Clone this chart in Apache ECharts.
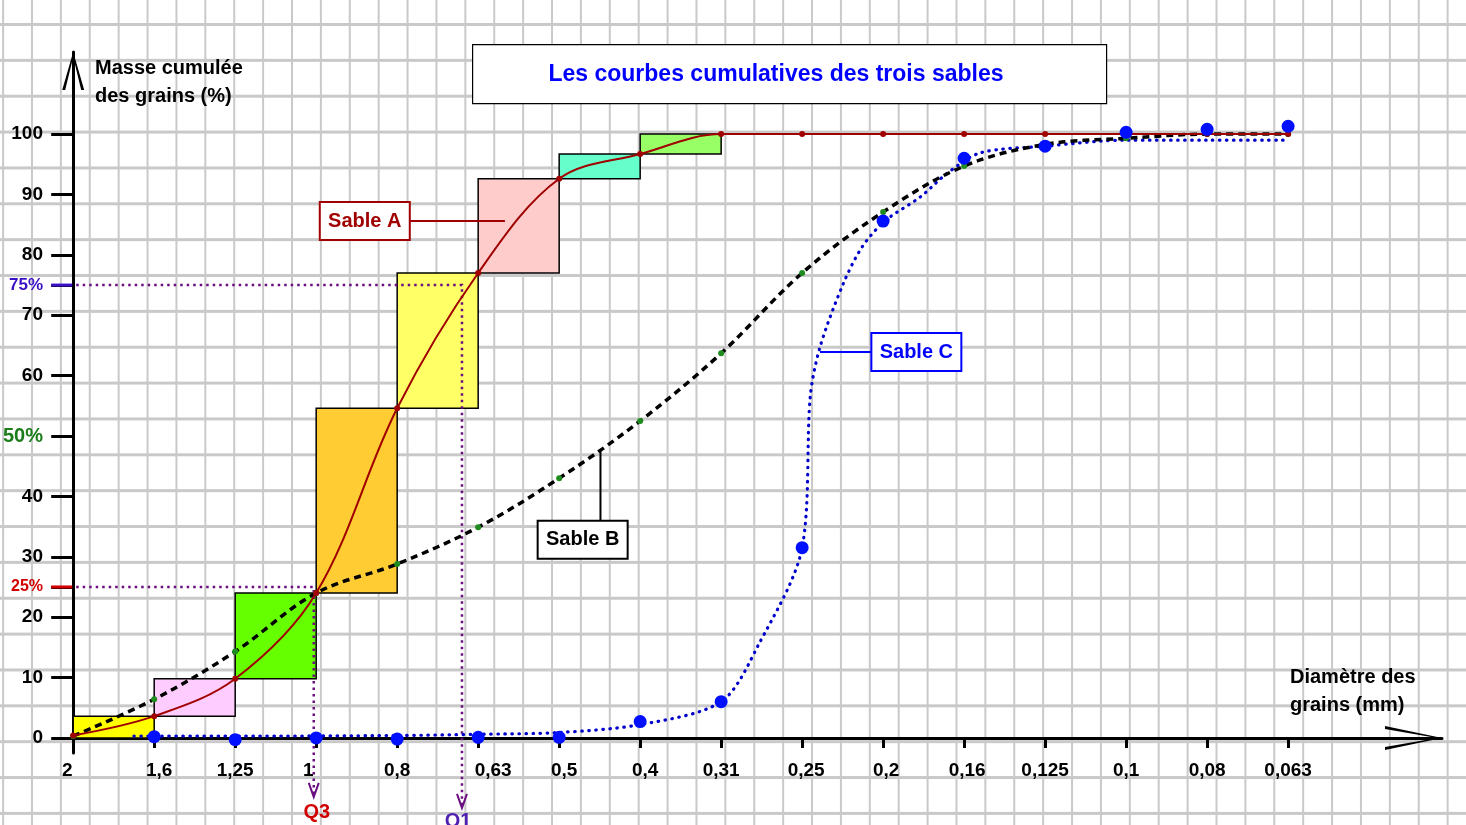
<!DOCTYPE html>
<html lang="fr">
<head>
<meta charset="utf-8">
<title>Les courbes cumulatives des trois sables</title>
<script src="https://cdn.jsdelivr.net/npm/echarts@6.0.0/dist/echarts.min.js"></script>
<style>
html, body { margin: 0; padding: 0; }
body {
	width: 1466px;
	height: 825px;
	overflow: hidden;
	background-color: #fff;
	/* papier quadrillé */
	background-image:
		linear-gradient(to right, #c9c9c9 0, #c9c9c9 2px, transparent 2px),
		linear-gradient(to bottom, #c9c9c9 0, #c9c9c9 2.5px, transparent 2.5px);
	background-size: 28.9px 100%, 100% 35.86px;
	background-position: 2.1px 0, 0 23px;
}
#graphique { width: 1466px; height: 825px; }
</style>
</head>
<body>
<div id="graphique"></div>
<script>
// ouverture des tamis (mm), de gauche à droite
const diametres = ['2', '1,6', '1,25', '1', '0,8', '0,63', '0,5', '0,4', '0,31', '0,25', '0,2', '0,16', '0,125', '0,1', '0,08', '0,063'];
// masse cumulée (%) pour chaque tamis
const sableA = [0.4, 3.6, 9.8, 24.0, 54.6, 77.0, 92.6, 96.7, 100, 100, 100, 100, 100, 100, 100, 100];
const sableB = [0.3, 6.4, 14.3, 24.0, 28.8, 34.9, 43.0, 52.5, 63.7, 77.0, 87.1, 94.7, 98.3, 99.3, 100, 100];
const sableC = [null, 0.2, -0.3, 0, -0.2, 0.1, 0.1, 2.7, 6.0, 31.5, 85.6, 96.0, 98.0, 100.3, 100.8, 101.3];
// tracé pointillé du sable C : [rang du tamis, %]
const courbeC = [[0.75, 0.3], [2, 0.3], [4, 0.4], [5, 0.6], [6, 0.9], [7, 2.2], [8, 6.0], [8.46, 15.4], [9, 31.5],
	[9.1, 56.5], [9.22, 64.7], [9.51, 75.3], [9.74, 81.3], [10.02, 85.6], [10.46, 89.6], [10.79, 93.5],
	[11.2, 96.9], [12, 98.0], [13, 99.0], [14, 99.0], [15, 99.0]];
// graduations de l'axe des masses
const graduationsY = [0, 10, 20, 25, 30, 40, 50, 60, 70, 75, 80, 90, 100];
const quartiles = ['Q1', 'Q3'];
const pourcentQuartiles = [75, 25];
const rangQuartiles = [4.8, 2.97];

const rangs = diametres.map((d, i) => i);
const police = '"Liberation Sans", Arial, sans-serif';

// histogramme du sable A : un rectangle par tranche de tamis
const couleursHisto = ['#ffff00', '#ffccff', '#66ff00', '#ffcc33', '#ffff66', '#ffcccc', '#66ffcc', '#99ff66', '#99ff66'];
const histo = [];
for (let i = 0; i < 9; i++) {
	histo.push([i, i + 1, i === 0 ? 0 : sableA[i], sableA[i + 1]]);
}

// étiquettes des courbes
const etiquettes = [
	{ texte: 'Sable A', ancre: [5.33, 85.6], boite: [3.6, 85.6], couleur: '#a00000' },
	{ texte: 'Sable B', ancre: [6.51, 47.7], boite: [6.29, 32.8], couleur: '#000000' },
	{ texte: 'Sable C', ancre: [9.22, 63.9], boite: [10.41, 63.9], couleur: '#0000ff' },
];

const styleQuartiles = [
	{ repere: '#3a10c8', texte: '#5020b0', descente: 70, decal: -4, ecart: 14 },
	{ repere: '#d40000', texte: '#d00000', descente: 59, decal: 3, ecart: 16 },
];

// petits décalages des étiquettes de l'axe x
const decalagesX = { 0: -6, 1: 5, 3: -8, 5: 15, 6: 5, 7: 5, 9: 4, 10: 3, 11: 3 };
const richX = {};
Object.keys(decalagesX).forEach((k) => {
	const d = decalagesX[k];
	richX['p' + k] = {
		fontSize: 19, fontWeight: 'bold', color: '#000', fontFamily: police,
		padding: d > 0 ? [0, 0, 0, 2 * d] : [0, -2 * d, 0, 0],
	};
});

function dessinerHisto(params, api) {
	const a = api.coord([api.value(0), api.value(3)]);
	const b = api.coord([api.value(1), api.value(2)]);
	return {
		type: 'rect',
		shape: { x: a[0], y: a[1], width: b[0] - a[0], height: b[1] - a[1] },
		style: { fill: couleursHisto[params.dataIndex], stroke: '#000', lineWidth: 1.5 },
	};
}

function dessinerQuartile(params, api) {
	const s = styleQuartiles[params.dataIndex];
	const p = api.coord([api.value(0), api.value(1)]);
	const o = api.coord([0, api.value(1)]);
	const bas = api.coord([api.value(0), 0])[1] + s.descente;
	return {
		type: 'group',
		children: [
			{ type: 'line', shape: { x1: o[0] - 22, y1: o[1], x2: o[0] - 1, y2: o[1] }, style: { stroke: s.repere, lineWidth: 3 } },
			{
				type: 'polyline', shape: { points: [[o[0] + 3, o[1]], [p[0], p[1]], [p[0], bas]] },
				style: { stroke: '#6b0f80', lineWidth: 2.5, lineDash: [2.5, 4], fill: null },
			},
			{
				type: 'polyline', shape: { points: [[p[0] - 5, bas - 14], [p[0], bas], [p[0] + 5, bas - 14]] },
				style: { stroke: '#6b0f80', lineWidth: 2, fill: null },
			},
			{
				type: 'text', x: p[0] + s.decal, y: bas + s.ecart,
				style: {
					text: quartiles[params.dataIndex], fill: s.texte, font: 'bold 20px ' + police,
					align: 'center', verticalAlign: 'middle', textAlign: 'center', textVerticalAlign: 'middle',
				},
			},
		],
	};
}

function dessinerEtiquette(params, api) {
	const e = etiquettes[params.dataIndex];
	const a = api.coord(e.ancre);
	const c = api.coord(e.boite);
	const horizontal = Math.abs(c[0] - a[0]) > Math.abs(c[1] - a[1]);
	const fin = horizontal ? [c[0], a[1]] : [a[0], c[1]];
	return {
		type: 'group',
		children: [
			{ type: 'line', shape: { x1: a[0], y1: a[1], x2: fin[0], y2: fin[1] }, style: { stroke: e.couleur, lineWidth: 2 } },
			{ type: 'rect', shape: { x: c[0] - 45, y: c[1] - 19, width: 90, height: 38 }, style: { fill: '#fff', stroke: e.couleur, lineWidth: 2 } },
			{
				type: 'text', x: c[0], y: c[1],
				style: {
					text: e.texte, fill: e.couleur, font: 'bold 20px ' + police,
					align: 'center', verticalAlign: 'middle', textAlign: 'center', textVerticalAlign: 'middle',
				},
			},
		],
	};
}

const graphique = echarts.init(document.getElementById('graphique'), null, { renderer: 'canvas' });

graphique.setOption({
	backgroundColor: 'transparent',
	animation: false,
	textStyle: { fontFamily: police },
	grid: { left: 57, right: 24, top: 52, bottom: 72, outerBoundsMode: 'none' },
	graphic: [
		{
			type: 'rect', left: 472, top: 44, z: 10,
			shape: { width: 634, height: 59 },
			style: { fill: '#fff', stroke: '#000', lineWidth: 1.2 },
		},
		{
			type: 'text', x: 776, y: 75, z: 11,
			style: {
				text: 'Les courbes cumulatives des trois sables', fill: '#0000ff', font: 'bold 23px ' + police,
				align: 'center', verticalAlign: 'middle', textAlign: 'center', textVerticalAlign: 'middle',
			},
		},
		{
			type: 'text', x: 95, y: 54, z: 11,
			style: { text: 'Masse cumulée\ndes grains (%)', fill: '#000', font: 'bold 20px ' + police, lineHeight: 28 },
		},
		{
			type: 'text', x: 1290, y: 663, z: 11,
			style: { text: 'Diamètre des\ngrains (mm)', fill: '#000', font: 'bold 20px ' + police, lineHeight: 28 },
		},
	],
	xAxis: {
		type: 'value',
		min: -0.2,
		max: 16.9,
		axisLine: {
			onZero: true,
			lineStyle: { color: '#000', width: 3 },
			symbol: ['none', 'path://M12,0L24,57L21,57L12,5L3,57L0,57Z'],
			symbolSize: [24, 57],
			symbolOffset: [0, -28.5],
		},
		axisTick: { customValues: rangs, length: 10, lineStyle: { color: '#000', width: 3 } },
		axisLabel: {
			customValues: rangs,
			margin: 8,
			color: '#000',
			fontSize: 19,
			fontWeight: 'bold',
			fontFamily: police,
			formatter: (v) => {
				const t = diametres[Math.round(v)];
				return decalagesX[v] !== undefined ? '{p' + v + '|' + t + '}' : t;
			},
			rich: richX,
		},
		splitLine: { show: false },
	},
	yAxis: {
		type: 'value',
		min: -2.5,
		max: 113.6,
		axisLine: {
			onZero: true,
			lineStyle: { color: '#000', width: 3 },
			symbol: ['none', 'path://M11,0L22,38L19,38L11,5L3,38L0,38Z'],
			symbolSize: [22, 38],
			symbolOffset: [0, -19],
		},
		axisTick: { customValues: graduationsY, length: 22, lineStyle: { color: '#000', width: 3 } },
		axisLabel: {
			customValues: graduationsY,
			margin: 14,
			color: '#000',
			fontSize: 19,
			fontWeight: 'bold',
			fontFamily: police,
			formatter: (v) => {
				if (v === 25) return '{r|25%}';
				if (v === 50) return '{v|50%}';
				if (v === 75) return '{b|75%}';
				return String(v);
			},
			rich: {
				r: { color: '#d40000', fontSize: 16, fontWeight: 'bold', fontFamily: police },
				v: { color: '#1a7d1a', fontSize: 20, fontWeight: 'bold', fontFamily: police },
				b: { color: '#3a10c8', fontSize: 17, fontWeight: 'bold', fontFamily: police },
			},
		},
		splitLine: { show: false },
	},
	series: [
		{
			name: 'histogramme A',
			type: 'custom',
			renderItem: dessinerHisto,
			data: histo,
			encode: { x: [0, 1], y: [2, 3] },
			clip: false,
			z: 1,
		},
		{
			name: 'quartiles',
			type: 'custom',
			renderItem: dessinerQuartile,
			data: rangQuartiles.map((r, i) => [r, pourcentQuartiles[i]]),
			clip: false,
			z: 2,
		},
		{
			name: 'Sable C',
			type: 'line',
			data: courbeC,
			smooth: 0.3,
			symbol: 'none',
			lineStyle: { color: '#0000cc', width: 3.2, type: [0.5, 6.5], cap: 'round' },
			z: 3,
		},
		{
			name: 'Sable B',
			type: 'line',
			data: sableB.map((v, i) => [i, v]),
			smooth: 0.35,
			symbol: 'circle',
			symbolSize: 6,
			itemStyle: { color: '#1e8c1e' },
			lineStyle: { color: '#000', width: 3.5, type: [7, 5] },
			z: 4,
		},
		{
			name: 'Sable A',
			type: 'line',
			data: sableA.map((v, i) => [i, v]),
			smooth: 0.35,
			symbol: 'circle',
			symbolSize: 6,
			itemStyle: { color: '#a00000' },
			lineStyle: { color: '#a00000', width: 2 },
			z: 5,
		},
		{
			name: 'points C',
			type: 'scatter',
			data: sableC.map((v, i) => [i, v]).filter((p) => p[1] !== null),
			symbolSize: 13,
			itemStyle: { color: '#0010ff', opacity: 1 },
			z: 6,
		},
		{
			name: 'étiquettes',
			type: 'custom',
			renderItem: dessinerEtiquette,
			data: etiquettes.map((e) => e.ancre),
			clip: false,
			z: 7,
		},
	],
});
</script>
</body>
</html>
